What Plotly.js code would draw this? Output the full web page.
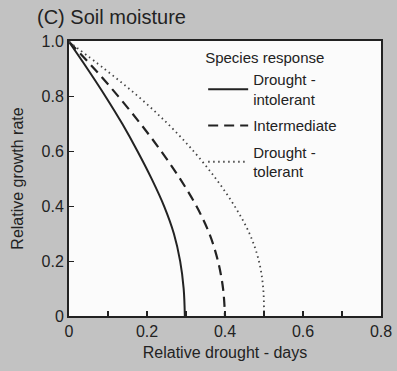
<!DOCTYPE html>
<html>
<head>
<meta charset="utf-8">
<script src="https://cdn.plot.ly/plotly-3.0.1.min.js"></script>
<style>
html,body{margin:0;padding:0;background:#c2c2c2;}
#chart{width:397px;height:371px;}
</style>
</head>
<body>
<div id="chart"></div>
<script>
// Data (x read at each 0.1 step of relative growth rate)
const growthY = [1, 0.9, 0.8, 0.7, 0.6, 0.5, 0.4, 0.3, 0.2, 0.1, 0];
const intolerantX = [0, 0.048, 0.094, 0.137, 0.176, 0.212, 0.244, 0.269, 0.285, 0.294, 0.297];
const intermediateX = [0, 0.066, 0.127, 0.184, 0.237, 0.285, 0.327, 0.36, 0.382, 0.395, 0.4];
const tolerantX = [0, 0.092, 0.178, 0.254, 0.32, 0.377, 0.425, 0.463, 0.487, 0.498, 0.5];
const seriesNames = ["Drought -<br>intolerant", "Intermediate", "Drought -<br>tolerant"];
const xTickVals = [0, 0.1, 0.2, 0.3, 0.4, 0.5, 0.6, 0.7, 0.8];
const xTickText = ["0", "", "0.2", "", "0.4", "", "0.6", "", "0.8"];
const yTickVals = [0, 0.2, 0.4, 0.6, 0.8, 1.0];
const yTickText = ["0", "0.2", "0.4", "0.6", "0.8", "1.0"];

const font = "Liberation Sans, Arial, sans-serif";
const ink = "#222";
const traces = [
  {x: intolerantX, y: growthY, name: seriesNames[0], legendgroup: "a", mode: "lines",
   line: {color: ink, width: 2, shape: "spline", smoothing: 1, dash: "solid"}},
  {x: intermediateX, y: growthY, name: seriesNames[1], legendgroup: "b", mode: "lines",
   line: {color: ink, width: 2.2, shape: "spline", smoothing: 1, dash: "10px,6px"}},
  {x: tolerantX, y: growthY, name: seriesNames[2], legendgroup: "c", mode: "lines",
   line: {color: "#444", width: 1.8, shape: "spline", smoothing: 1, dash: "1.5px,3.5px"}}
];
const layout = {
  width: 397, height: 371,
  margin: {l: 69, r: 16, t: 41, b: 55, pad: 0},
  paper_bgcolor: "#c2c2c2",
  plot_bgcolor: "#fbfbfb",
  font: {family: font, color: ink, size: 15},
  title: {text: "(C) Soil moisture", x: 37/397, xanchor: "left", y: 0.953, yanchor: "middle",
          font: {family: font, size: 20, color: ink}},
  xaxis: {range: [0, 0.8], tickmode: "array", tickvals: xTickVals, ticktext: xTickText,
          ticks: "inside", ticklen: 5, tickwidth: 1.2, tickcolor: ink,
          showline: true, linewidth: 2, linecolor: ink, mirror: true,
          showgrid: false, zeroline: false,
          tickfont: {size: 16, family: font, color: ink},
          title: {text: "Relative drought - days", standoff: 8, font: {size: 16, family: font, color: ink}}},
  yaxis: {range: [0, 1.003], tickmode: "array", tickvals: yTickVals, ticktext: yTickText,
          ticks: "inside", ticklen: 5, tickwidth: 1.2, tickcolor: ink,
          showline: true, linewidth: 2, linecolor: ink, mirror: true,
          showgrid: false, zeroline: false,
          tickfont: {size: 16, family: font, color: ink},
          title: {text: "Relative growth rate", standoff: 14, font: {size: 16, family: font, color: ink}}},
  legend: {x: 0.43, y: 0.99, xanchor: "left", yanchor: "top", bgcolor: "rgba(0,0,0,0)",
           borderwidth: 0, font: {size: 15, family: font, color: ink},
           title: {text: "Species response", font: {size: 15, family: font, color: ink}},
           traceorder: "grouped", tracegroupgap: 4, itemwidth: 40},
  showlegend: true
};
Plotly.newPlot("chart", traces, layout, {displayModeBar: false, staticPlot: true});
</script>
</body>
</html>
